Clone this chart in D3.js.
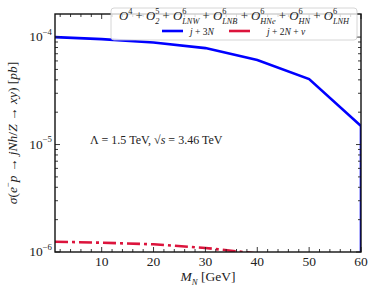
<!DOCTYPE html>
<html>
<head>
<meta charset="utf-8">
<script src="https://cdn.jsdelivr.net/npm/d3@7"></script>
<style>
  body { margin: 0; background: #fff; }
  svg { display: block; }
  text { font-family: "Liberation Serif", "DejaVu Serif", serif; fill: #222; white-space: pre; }
</style>
</head>
<body>
<div id="chart"></div>
<script>
// data
var massN = [1, 10, 20, 30, 40, 50, 60, 60];
var j3N = [1.0e-4, 0.958e-4, 0.889e-4, 0.79e-4, 0.611e-4, 0.407e-4, 1.49e-5, 1e-9];
var massNu = [1, 10, 20, 30, 40, 50, 60];
var j2Nnu = [1.247e-6, 1.22e-6, 1.18e-6, 1.09e-6, 0.968e-6, 0.75e-6, 1e-9];
var xTicks = [10, 20, 30, 40, 50, 60];
var yTicks = [1e-6, 1e-5, 1e-4];
var yTickExp = ["\u22126", "\u22125", "\u22124"];

(function () {
    var W = 374, H = 291;
    var m = {left: 55, right: 13, top: 14, bottom: 39};
    var w = W - m.left - m.right, h = H - m.top - m.bottom;

    var svg = d3.select("#chart").append("svg")
        .attr("width", W).attr("height", H);

    var x = d3.scaleLinear().domain([1, 60]).range([0, w]);
    var y = d3.scaleLog().domain([1e-6, 1.64e-4]).range([h, 0]);

    var g = svg.append("g").attr("transform", "translate(" + m.left + "," + m.top + ")");

    svg.append("defs").append("clipPath").attr("id", "clip")
        .append("rect").attr("width", w).attr("height", h);

    // measuring widths with a throwaway text
    function textW(s, fs, it) {
        var meas = svg.append("text").style("font-size", fs + "px")
            .style("font-style", it ? "italic" : "normal").text(s);
        var wd = meas.node().getComputedTextLength();
        meas.remove();
        return wd;
    }

    // math text as one <text> with tspans, sup/sub stacked
    function mathText(parent, x0, y0, parts, fs, anchor) {
        var t = parent.append("text").attr("x", x0).attr("y", y0)
            .attr("text-anchor", anchor || "start").style("font-size", fs + "px");
        var base = 0, sfs = fs * 0.65, up = -fs * 0.45, down = fs * 0.32;
        parts.forEach(function (p) {
            if (p.t !== undefined) {
                t.append("tspan").attr("dy", -base).style("font-style", p.i ? "italic" : "normal").text(p.t);
                base = 0;
            }
            var sw = 0, bw = 0;
            if (p.sup !== undefined) {
                sw = textW(p.sup, sfs, false);
                t.append("tspan").attr("dy", up - base).style("font-size", sfs + "px")
                    .style("font-style", "normal").text(p.sup);
                base = up;
            }
            if (p.sub !== undefined) {
                bw = textW(p.sub, sfs, true);
                t.append("tspan").attr("dx", -sw).attr("dy", down - base).style("font-size", sfs + "px")
                    .style("font-style", "italic").text(p.sub);
                base = down;
                if (sw > bw) t.append("tspan").attr("dx", sw - bw).text("");
            }
        });
        return t;
    }

    // lines
    var line = d3.line()
        .x(function (d) { return x(d[0]); })
        .y(function (d) { return y(d[1]); });

    var lines = g.append("g").attr("clip-path", "url(#clip)");
    lines.append("path")
        .datum(d3.zip(massN, j3N))
        .attr("d", line)
        .attr("fill", "none").attr("stroke", "#0000ff").attr("stroke-width", 2.6);
    lines.append("path")
        .datum(d3.zip(massNu, j2Nnu))
        .attr("d", line)
        .attr("fill", "none").attr("stroke", "#dc143c").attr("stroke-width", 2.6)
        .attr("stroke-dasharray", "13,4,3,4");

    // ticks (inward, all four sides)
    var tk = g.append("g").attr("stroke", "#222").attr("stroke-width", 0.9);
    var xMinor = d3.range(2, 60, 2).filter(function (v) { return v % 10 !== 0; });
    xTicks.forEach(function (v) {
        tk.append("line").attr("x1", x(v)).attr("x2", x(v)).attr("y1", h).attr("y2", h - 5);
        tk.append("line").attr("x1", x(v)).attr("x2", x(v)).attr("y1", 0).attr("y2", 5);
    });
    xMinor.forEach(function (v) {
        tk.append("line").attr("x1", x(v)).attr("x2", x(v)).attr("y1", h).attr("y2", h - 3);
        tk.append("line").attr("x1", x(v)).attr("x2", x(v)).attr("y1", 0).attr("y2", 3);
    });
    var yMinor = [];
    [1e-6, 1e-5, 1e-4].forEach(function (d) {
        for (var k = 2; k < 10; k++) if (d * k <= 1.64e-4) yMinor.push(d * k);
    });
    yTicks.forEach(function (v) {
        tk.append("line").attr("x1", 0).attr("x2", 5).attr("y1", y(v)).attr("y2", y(v));
        tk.append("line").attr("x1", w).attr("x2", w - 5).attr("y1", y(v)).attr("y2", y(v));
    });
    yMinor.forEach(function (v) {
        tk.append("line").attr("x1", 0).attr("x2", 3).attr("y1", y(v)).attr("y2", y(v));
        tk.append("line").attr("x1", w).attr("x2", w - 3).attr("y1", y(v)).attr("y2", y(v));
    });

    // frame
    g.append("rect").attr("width", w).attr("height", h)
        .attr("fill", "none").attr("stroke", "#111").attr("stroke-width", 1.4);

    // x tick labels
    xTicks.forEach(function (v) {
        g.append("text").attr("x", x(v)).attr("y", h + 14)
            .attr("text-anchor", "middle").style("font-size", "13.5px").text(v);
    });
    // y tick labels
    yTicks.forEach(function (v, i) {
        mathText(g, -3, y(v) + 4, [{t: "10", sup: yTickExp[i]}], 13.5, "end");
    });

    // axis labels
    mathText(svg, m.left + w / 2, 281, [
        {t: "M", i: true, sub: "N"}, {t: " [GeV]"}
    ], 13.5, "middle");

    var yl = svg.append("g").attr("transform", "translate(17," + (m.top + h / 2) + ") rotate(-90)");
    mathText(yl, 0, 0, [
        {t: "\u03c3", i: true}, {t: "("}, {t: "e", i: true, sup: "\u2212"}, {t: "p", i: true},
        {t: " \u2192 "}, {t: "jNh", i: true}, {t: "/"}, {t: "Z", i: true},
        {t: " \u2192 "}, {t: "xy", i: true}, {t: ") ["}, {t: "pb", i: true}, {t: "]"}
    ], 13.5, "middle");

    // annotation
    mathText(g, 35, 130, [
        {t: "\u039b = 1.5 TeV, \u221a"}, {t: "s", i: true}, {t: " = 3.46 TeV"}
    ], 12, "start");

    // legend
    var lg = svg.append("g");
    lg.append("rect").attr("x", 111).attr("y", 8).attr("width", 246).attr("height", 32)
        .attr("rx", 3).attr("fill", "#fff").attr("fill-opacity", 0.8)
        .attr("stroke", "#ccc").attr("stroke-width", 0.8);
    mathText(lg, 234, 20, [
        {t: "O", i: true, sup: "4"}, {t: " + "},
        {t: "O", i: true, sup: "5", sub: "2"}, {t: " + "},
        {t: "O", i: true, sup: "6", sub: "LNW"}, {t: " + "},
        {t: "O", i: true, sup: "6", sub: "LNB"}, {t: " + "},
        {t: "O", i: true, sup: "6", sub: "HNe"}, {t: " + "},
        {t: "O", i: true, sup: "6", sub: "HN"}, {t: " + "},
        {t: "O", i: true, sup: "6", sub: "LNH"}
    ], 12.8, "middle");

    lg.append("line").attr("x1", 162).attr("x2", 183).attr("y1", 31).attr("y2", 31)
        .attr("stroke", "#0000ff").attr("stroke-width", 2.6);
    mathText(lg, 190, 34.5, [{t: "j", i: true}, {t: " + 3"}, {t: "N", i: true}], 9.5, "start");
    lg.append("line").attr("x1", 229).attr("x2", 250).attr("y1", 31).attr("y2", 31)
        .attr("stroke", "#dc143c").attr("stroke-width", 2.6);
    mathText(lg, 267, 34.5, [{t: "j", i: true}, {t: " + 2"}, {t: "N", i: true}, {t: " + "}, {t: "\u03bd", i: true}], 9.5, "start");
})();
</script>
</body>
</html>
